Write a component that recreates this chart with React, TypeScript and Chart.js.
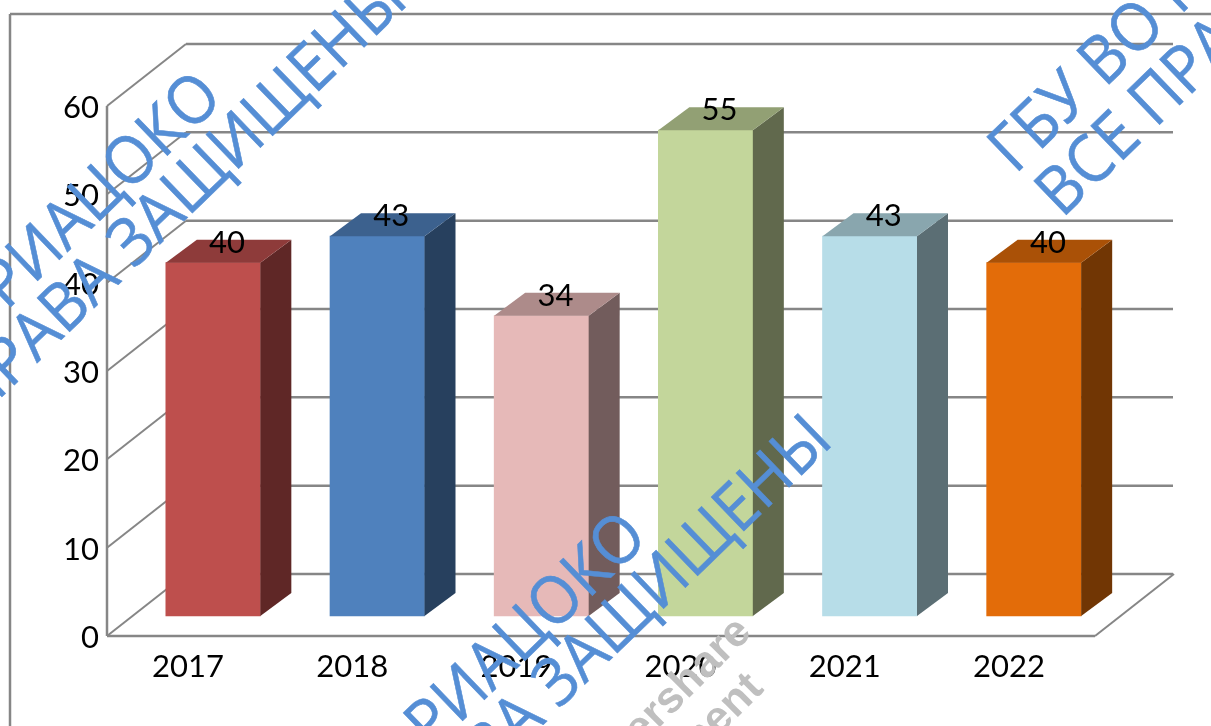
import React, { useEffect, useRef } from "react";
import { Chart, registerables } from "chart.js";

Chart.register(...registerables);

const categories = ["2017", "2018", "2019", "2020", "2021", "2022"];
const seriesValues = [40, 43, 34, 55, 43, 40];
const frontColors = ["#BE4F4D", "#4F81BD", "#E6B9B8", "#C3D69B", "#B7DDE8", "#E36C09"];
const sideColors = ["#5F2726", "#27405E", "#725C5C", "#61694D", "#5B6E74", "#713604"];
const topColors = ["#8E3B3A", "#3C618E", "#AD8B8A", "#92A074", "#89A6AE", "#AA5107"];

const LINE = "#868686";
const FONT = "Lato";
const WALL = { dx: 79, dy: -62 };
const BAR_SHIFT = { dx: 24, dy: -20 };
const BAR_DEPTH = { dx: 31, dy: -23 };

const poly = (ctx: CanvasRenderingContext2D, pts: number[][], fill: string) => {
  ctx.beginPath();
  pts.forEach((p, i) => (i ? ctx.lineTo(p[0], p[1]) : ctx.moveTo(p[0], p[1])));
  ctx.closePath();
  ctx.fillStyle = fill;
  ctx.fill();
};
const seg = (ctx: CanvasRenderingContext2D, x1: number, y1: number, x2: number, y2: number, w: number) => {
  ctx.beginPath();
  ctx.moveTo(x1, y1);
  ctx.lineTo(x2, y2);
  ctx.lineWidth = w;
  ctx.strokeStyle = LINE;
  ctx.stroke();
};

const wallsPlugin = {
  id: "walls",
  beforeDatasetsDraw(chart: any) {
    const { ctx, chartArea: a, scales } = chart;
    const y = scales.y;
    ctx.save();
    // outer chart frame
    seg(ctx, 10, 14, 1211, 14, 2.5);
    seg(ctx, 10, 14, 10, 726, 2.5);
    for (const v of y.ticks.map((t: any) => t.value)) {
      const py = y.getPixelForValue(v);
      seg(ctx, a.left, py, a.left + WALL.dx, py + WALL.dy, 2);
      seg(ctx, a.left + WALL.dx, py + WALL.dy, a.right + WALL.dx + 2, py + WALL.dy, 2.5);
    }
    seg(ctx, a.left, a.top, a.left, a.bottom, 2.5);
    seg(ctx, a.left, a.bottom, a.right + 3, a.bottom, 2.5);
    seg(ctx, a.right + 3, a.bottom, a.right + WALL.dx + 3, a.bottom + WALL.dy, 2);
    ctx.restore();
  },
  beforeDatasetDraw(chart: any) {
    chart.ctx.save();
    chart.ctx.translate(BAR_SHIFT.dx, BAR_SHIFT.dy);
  },
  afterDatasetDraw(chart: any) {
    const ctx = chart.ctx;
    ctx.restore();
    const meta = chart.getDatasetMeta(0);
    meta.data.forEach((bar: any, i: number) => {
      const hw = bar.width / 2;
      const l = bar.x - hw + BAR_SHIFT.dx;
      const r = bar.x + hw + BAR_SHIFT.dx;
      const t = bar.y + BAR_SHIFT.dy;
      const b = bar.base + BAR_SHIFT.dy;
      const { dx, dy } = BAR_DEPTH;
      poly(ctx, [[r, t], [r + dx, t + dy], [r + dx, b + dy], [r, b]], sideColors[i]);
      poly(ctx, [[l, t], [l + dx, t + dy], [r + dx, t + dy], [r, t]], topColors[i]);
      ctx.save();
      ctx.fillStyle = "#000";
      ctx.font = `31px ${FONT}`;
      ctx.textAlign = "center";
      ctx.textBaseline = "middle";
      ctx.fillText(String(seriesValues[i]), bar.x + BAR_SHIFT.dx + 14, t - 20);
      ctx.restore();
    });
  },
  afterDraw(chart: any) {
    const ctx = chart.ctx;
    const put = (txt: string, x: number, y: number, align: CanvasTextAlign, font: string, color: string, deg: number, sx: number, stroke: number) => {
      ctx.save();
      ctx.translate(x, y);
      ctx.rotate((deg * Math.PI) / 180);
      ctx.scale(sx, 1);
      ctx.font = font;
      ctx.fillStyle = color;
      ctx.textAlign = align;
      ctx.textBaseline = "alphabetic";
      ctx.fillText(txt, 0, 0);
      if (stroke > 0) {
        ctx.lineWidth = stroke;
        ctx.strokeStyle = color;
        ctx.strokeText(txt, 0, 0);
      }
      ctx.restore();
    };
    const gray = "bold 44px 'Liberation Sans'";
    put("Wondershare", 753, 634, "right", gray, "#BFBFBF", -45, 1, 0);
    put("PDFelement", 765, 690, "right", gray, "#BFBFBF", -45, 1, 0);
    const blue = "66px 'Open Sans'";
    const c = "#558ED5";
    const a = -44;
    const sx = 0.94;
    const st = 0.6;
    put("ГБУ ВО РИАЦОКО", 225, 100, "right", blue, c, a, sx, st);
    put("ВСЕ ПРАВА ЗАЩИЩЕНЫ", 410, 3, "right", blue, c, a, sx, st);
    put("ГБУ ВО РИАЦОКО", 650, 540, "right", blue, c, a, sx, st);
    put("ВСЕ ПРАВА ЗАЩИЩЕНЫ", 835, 443, "right", blue, c, a, sx, st);
    put("ГБУ ВО РИАЦОКО", 1015, 175, "left", blue, c, a, sx, st);
    put("ВСЕ ПРАВА ЗАЩИЩЕНЫ", 1062, 219, "left", blue, c, a, sx, st);
  },
};

export default function App() {
  const ref = useRef<HTMLCanvasElement>(null);
  useEffect(() => {
    const chart = new Chart(ref.current!, {
      type: "bar",
      data: {
        labels: categories,
        datasets: [{ data: seriesValues, backgroundColor: frontColors, borderWidth: 0, barThickness: 94.5, clip: false } as any],
      },
      options: {
        responsive: false,
        animation: false,
        layout: { padding: { top: 106, right: 119, left: 0, bottom: 0 } },
        plugins: { legend: { display: false }, tooltip: { enabled: false } },
        scales: {
          x: {
            grid: { display: false, drawTicks: false },
            border: { display: false },
            ticks: { color: "#000", font: { family: FONT, size: 31 }, padding: 12, maxRotation: 0, labelOffset: -1 },
            afterFit: (s: any) => { s.height = 90; },
          },
          y: {
            min: 0,
            max: 60,
            grid: { display: false, drawTicks: false },
            border: { display: false },
            ticks: { color: "#000", stepSize: 10, font: { family: FONT, size: 31 }, padding: 8, labelOffset: 2 },
            afterFit: (s: any) => { s.width = 107; },
          },
        },
      },
      plugins: [wallsPlugin],
    });
    return () => chart.destroy();
  }, []);
  return (
    <canvas
      ref={ref}
      width={1211}
      height={726}
      style={{ position: "absolute", left: 0, top: 0, display: "block", width: 1211, height: 726 }}
    />
  );
}
